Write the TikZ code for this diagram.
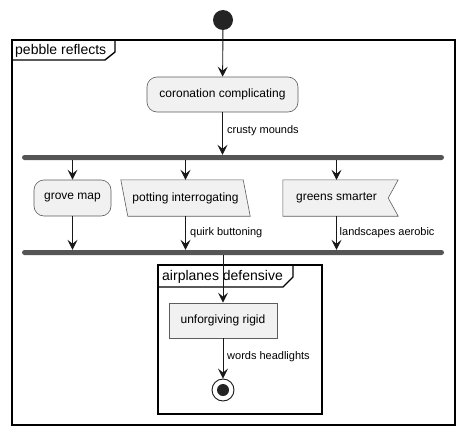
\documentclass[tikz,border=0pt]{standalone}
\usepackage{fontspec}
\setmainfont{Liberation Sans}
\usetikzlibrary{arrows.meta,calc}
\definecolor{boxfill}{HTML}{F1F1F1}
\definecolor{boxline}{HTML}{181818}
\definecolor{barcol}{HTML}{555555}
\tikzset{
  px/.style={x=1pt,y=-1pt},
  act/.style={inner sep=0pt,font=\fontsize{12}{14}\selectfont,text=black},
  shapeline/.style={draw=boxline!70,line width=0.6pt,fill=boxfill},
  bar/.style={fill=barcol,draw=none,rounded corners=2.5pt,inner sep=0pt,minimum width=422pt,minimum height=5pt},
  flow/.style={draw=boxline,line width=0.9pt,-{Stealth[length=10pt,width=10pt,inset=4pt]}},
  lbl/.style={font=\fontsize{11}{13}\selectfont,anchor=west,inner sep=0pt},
  frametitle/.style={font=\fontsize{14}{16}\selectfont,anchor=west,inner sep=0pt},
  frameline/.style={draw=black,line width=1.4pt},
}
\begin{document}
\begin{tikzpicture}[px]
\useasboundingbox (0,0) rectangle (465,436);
\fill[white] (0,0) rectangle (465,436);
% outer frame
\draw[frameline] (12,40) rectangle (455,425);
\draw[frameline] (12,60) -- (105,60) -- (115,52) -- (115,40);
\node[frametitle] (t1) at (15,50.5) {pebble reflects};
% inner frame
\draw[frameline] (158,265) rectangle (322,414);
\draw[frameline] (158,287) -- (283,287) -- (293,277) -- (293,265);
\node[frametitle] (t2) at (162,276.5) {airplanes defensive};
% start
\node[circle,fill=boxline!95,minimum size=20pt,inner sep=0pt] (s) at (223,20) {};
% coronation
\node[act,shapeline,rounded corners=10pt,minimum width=151pt,minimum height=35pt] (c) at (222.5,94.5) {coronation complicating};
% fork / join bars
\node[bar] (f1) at (233,157.5) {};
\node[bar] (j) at (233,252.5) {};
% grove
\node[act,shapeline,rounded corners=10pt,minimum width=77pt,minimum height=36pt] (g) at (72.5,198) {grove map};
% potting (parallelogram)
\node[act,minimum width=122pt,minimum height=36pt] (p) at (182,198) {};
\filldraw[shapeline] (p.north west) -- (p.north east) -- ($(p.south east)+(7,0)$) -- ($(p.south west)+(7,0)$) -- cycle;
\node[act] (pt) at (185.5,198) {potting interrogating};
% greens (notched)
\node[act,minimum width=115pt,minimum height=36pt] (gr) at (340.5,198) {};
\filldraw[shapeline] (gr.north west) -- (gr.north east) -- ($(gr.east)+(-10,0)$) -- (gr.south east) -- (gr.south west) -- cycle;
\node[act] (grt) at (336.5,198) {greens smarter};
% unforgiving
\node[act,shapeline,minimum width=108pt,minimum height=35pt] (u) at (223,320.5) {unforgiving rigid};
% end
\node[circle,draw=boxline,line width=0.9pt,fill=white,minimum size=22pt,inner sep=0pt] (e) at (223,390) {};
\node[circle,fill=boxline!95,minimum size=12pt,inner sep=0pt] (ei) at (e) {};
% connectors
\draw[flow] (s) -- (c);
\draw[flow] (c) -- (c.south |- f1.north);
\node[lbl] (l1) at (227,131) {crusty mounds};
\draw[flow] (f1.south -| g) -- (g);
\draw[flow] (f1.south -| pt) -- (p.north -| pt);
\draw[flow] (f1.south -| grt) -- (gr.north -| grt);
\draw[flow] (g) -- (g.south |- j.north);
\draw[flow] (p.south -| pt) -- (j.north -| pt);
\node[lbl] (l2) at (190,233) {quirk buttoning};
\draw[flow] (gr.south -| grt) -- (j.north -| grt);
\node[lbl] (l3) at (339.5,233) {landscapes aerobic};
\draw[flow] (j.south -| u) -- (u);
\draw[flow] (u) -- (e);
\node[lbl] (l4) at (227,357) {words headlights};
\end{tikzpicture}
\end{document}
